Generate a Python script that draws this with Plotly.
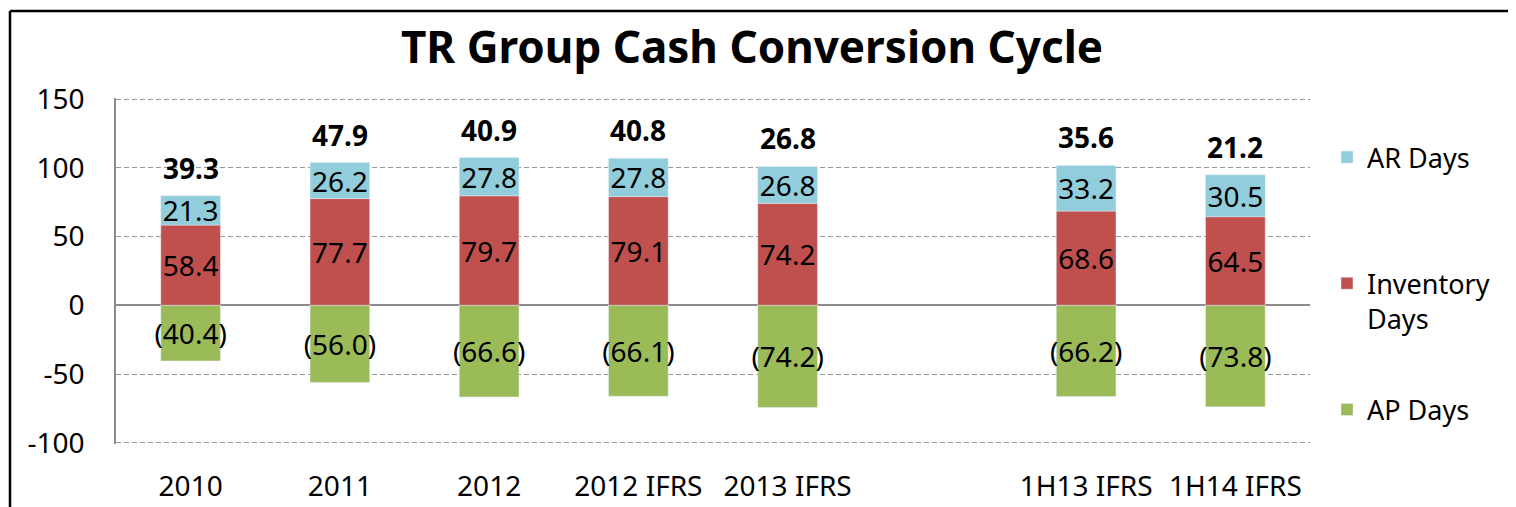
import plotly.graph_objects as go

categories = ["2010", "2011", "2012", "2012 IFRS", "2013 IFRS", " ", "1H13 IFRS", "1H14 IFRS"]
inventory_days = [58.4, 77.7, 79.7, 79.1, 74.2, None, 68.6, 64.5]
ar_days = [21.3, 26.2, 27.8, 27.8, 26.8, None, 33.2, 30.5]
ap_days = [-40.4, -56.0, -66.6, -66.1, -74.2, None, -66.2, -73.8]
y_ticks = [-100, -50, 0, 50, 100, 150]

FONT = "Noto Sans"
FS = 28

def fmt(v):
    if v is None:
        return ""
    return f"({abs(v):.1f})" if v < 0 else f"{v:.1f}"

fig = go.Figure()
common = dict(textposition="inside", insidetextanchor="middle", textangle=0,
              constraintext="none", cliponaxis=False,
              textfont=dict(family=FONT, size=FS, color="black"))
fig.add_trace(go.Bar(x=categories, y=inventory_days, name="Inventory<br>Days",
                     marker_color="#C0504D", text=[fmt(v) for v in inventory_days],
                     legendrank=2, legendgroup="inv", **common))
fig.add_trace(go.Bar(x=categories, y=ar_days, name="AR Days<br>&nbsp;",
                     marker_color="#92CDDC", text=[fmt(v) for v in ar_days],
                     legendrank=1, legendgroup="ar", **common))
fig.add_trace(go.Bar(x=categories, y=ap_days, name="AP Days",
                     marker_color="#9BBB59", text=[fmt(v) for v in ap_days],
                     legendrank=3, legendgroup="ap", **common))

# totals (cash conversion cycle) above each bar; x given as category serial number
for idx, (i, a, p) in enumerate(zip(inventory_days, ar_days, ap_days)):
    if i is None:
        continue
    total = i + a + p
    fig.add_annotation(x=idx, y=i + a, xref="x", yref="y", text=f"<b>{total:.1f}</b>",
                       showarrow=False, yanchor="middle", yshift=28,
                       font=dict(family=FONT, size=FS, color="black"))

# page body has an 8px margin, so lay out in a 1508x499 figure
OFF = 8
W, H = 1516 - OFF, 507 - OFF
L, R, T, B = 116 - OFF, 1310 - OFF, 98 - OFF, 444 - OFF
pw, ph = R - L, B - T
def px(x):
    return (x - OFF - L) / pw
def py(y):
    return (B - (y - OFF)) / ph

# outer frame (top and left edges visible)
fig.add_shape(type="line", xref="paper", yref="paper", x0=px(10), x1=px(1530),
              y0=py(11), y1=py(11), line=dict(color="black", width=2.5))
fig.add_shape(type="line", xref="paper", yref="paper", x0=px(10), x1=px(10),
              y0=py(11), y1=py(520), line=dict(color="black", width=2.5))

fig.update_layout(
    width=W, height=H,
    margin=dict(l=L, r=W - R, t=T, b=H - B, pad=0, autoexpand=False),
    paper_bgcolor="white", plot_bgcolor="white",
    barmode="relative", bargap=0.6,
    font=dict(family=FONT, size=FS, color="black"),
    title=dict(text="<b>TR Group Cash Conversion Cycle</b>", x=(752 - OFF) / W, xanchor="center",
               y=1 - (48 - OFF) / H, yanchor="middle", xref="container", yref="container",
               font=dict(family=FONT, size=44, color="black")),
    legend=dict(x=px(1327), xanchor="left", y=py(133), yanchor="top",
                tracegroupgap=53, valign="top", traceorder="grouped",
                font=dict(family=FONT, size=27, color="black"), bgcolor="rgba(0,0,0,0)"),
    showlegend=True,
)
fig.update_xaxes(type="category", categoryorder="array", categoryarray=categories,
                 range=[-0.5, len(categories) - 0.5], automargin=False,
                 showgrid=False, showline=False, ticks="", ticklabelstandoff=23,
                 tickfont=dict(family=FONT, size=FS))
fig.update_yaxes(range=[-100.8, 150.8], tickvals=y_ticks, ticktext=[str(v) for v in y_ticks],
                 automargin=False,
                 showgrid=True, gridcolor="#999999", griddash="5px,3px", gridwidth=1.3,
                 zeroline=True, zerolinecolor="#8c8c8c", zerolinewidth=1.5,
                 showline=True, linecolor="#8c8c8c", linewidth=1.5,
                 ticks="", ticklabelstandoff=24, tickfont=dict(family=FONT, size=FS))

fig.write_html("out.html")
